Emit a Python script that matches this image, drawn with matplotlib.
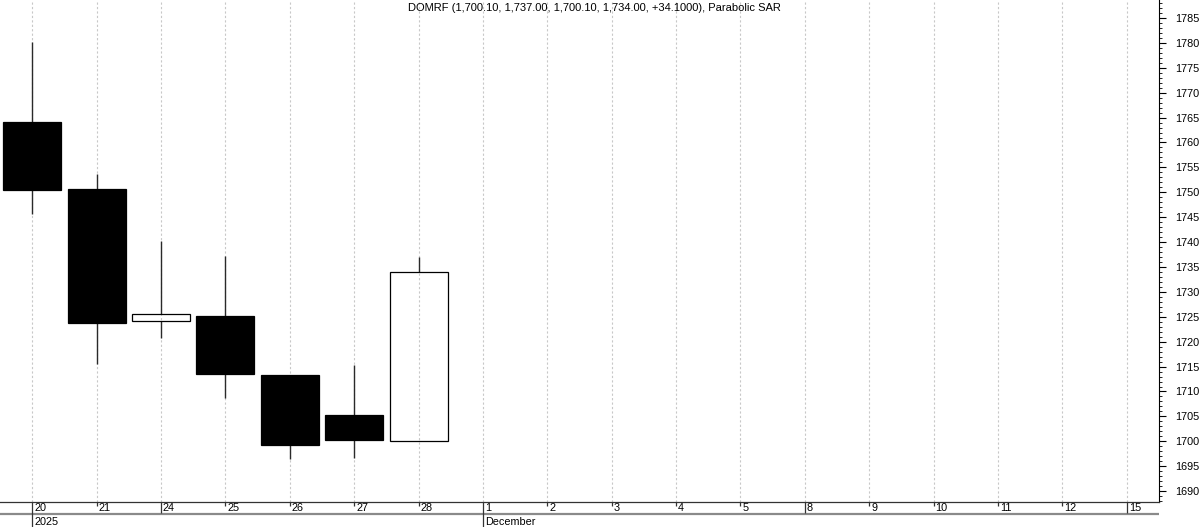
import matplotlib
matplotlib.use("Agg")
import matplotlib.pyplot as plt
import matplotlib.transforms as mtransforms
from matplotlib.ticker import MultipleLocator

plt.rcParams['font.family'] = ['Liberation Sans', 'DejaVu Sans']

# ---- data ----
date_labels = ['20', '21', '24', '25', '26', '27', '28', '1', '2', '3', '4', '5',
               '8', '9', '10', '11', '12', '15']
week_starts = [0, 2, 7, 12, 17]
period_labels = {0: '2025', 7: 'December'}
opens = [1764.1, 1750.7, 1724.2, 1725.2, 1713.3, 1705.3, 1700.1]
highs = [1780.2, 1753.7, 1740.2, 1737.2, 1713.3, 1715.3, 1737.0]
lows = [1745.6, 1715.5, 1720.7, 1708.7, 1696.4, 1696.7, 1700.1]
closes = [1750.5, 1723.8, 1725.6, 1713.5, 1699.3, 1700.3, 1734.0]
title = "DOMRF (1,700.10, 1,737.00, 1,700.10, 1,734.00, +34.1000), Parabolic SAR"

W, H = 1200, 527
fig = plt.figure(figsize=(W / 100, H / 100), dpi=100)
plot_right = 1159 / W
band_h = 25 / H
ax = fig.add_axes([0, band_h, plot_right, 1 - band_h])

n = len(date_labels)
ax.set_xlim(-0.5, n - 0.5)
ax.set_ylim(1687.81, 1788.61)

# grid
for i in range(n):
    ax.axvline(i, color='#c8c8c8', lw=0.8, ls=(0, (2, 2)), zorder=0)

# candles
width = 0.9
for i, (o, h, l, c) in enumerate(zip(opens, highs, lows, closes)):
    top, bot = max(o, c), min(o, c)
    if h > top:
        ax.vlines(i, top, h, color='#2a2a2a', lw=1.0, zorder=2)
    if l < bot:
        ax.vlines(i, l, bot, color='#2a2a2a', lw=1.0, zorder=2)
    up = c >= o
    ax.bar(i, top - bot, bottom=bot, width=width,
           facecolor='none' if up else 'black', edgecolor='black',
           linewidth=0.9, zorder=3)

# spines & ticks
for s in ['top', 'left']:
    ax.spines[s].set_visible(False)
ax.spines['right'].set_color('black')
ax.spines['right'].set_linewidth(0.8)
ax.spines['bottom'].set_color('#333333')
ax.spines['bottom'].set_linewidth(0.9)
ax.yaxis.tick_right()
ax.yaxis.set_major_locator(MultipleLocator(5))
ax.yaxis.set_minor_locator(MultipleLocator(1))
ax.tick_params(axis='y', which='major', length=5, width=0.8, pad=6.5,
               labelsize=7.8, colors='black')
ax.tick_params(axis='y', which='minor', length=2.5, width=0.6)
ax.set_xticks([])
ax.set_facecolor('white')

fig.text(594 / W, 1 - 8 / H, title, ha='center', va='center', fontsize=8)

# date band (pixel units vertically: 0 = bottom of image, 25 = axis line)
band = fig.add_axes([0, 0, plot_right, band_h], sharex=ax)
band.set_ylim(0, 25)
band.axis('off')
band.axhline(13.5, color='#8a8a8a', lw=1.6)
off = mtransforms.offset_copy(band.transData, fig=fig, x=2, y=0, units='dots')
for i, lab in enumerate(date_labels):
    if i in week_starts:
        ymin = 0 if i in period_labels else 14
        band.vlines(i, ymin, 25, color='#333333', lw=0.9)
    else:
        band.vlines(i, 21.5, 25, color='#333333', lw=0.9)
    band.text(i, 19, lab, transform=off, ha='left', va='center', fontsize=7.8)
for i, lab in period_labels.items():
    band.text(i, 5, lab, transform=off, ha='left', va='center', fontsize=7.8)

fig.savefig('out.png', dpi=100)
